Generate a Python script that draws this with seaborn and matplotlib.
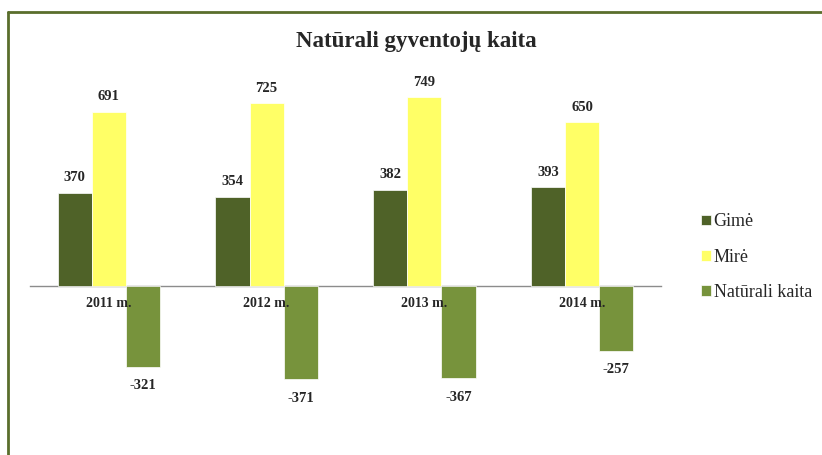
import pandas as pd
import matplotlib.pyplot as plt
import seaborn as sns
from matplotlib.lines import Line2D

years = ['2011 m.', '2012 m.', '2013 m.', '2014 m.']
gime = [370, 354, 382, 393]
mire = [691, 725, 749, 650]
naturali = [-321, -371, -367, -257]
series_names = ['Gimė', 'Mirė', 'Natūrali kaita']
colors = ['#4f6228', '#ffff66', '#77933c']

df = pd.DataFrame({
    'metai': years * 3,
    'reiksme': gime + mire + naturali,
    'serija': [s for s in series_names for _ in years],
})

sns.set_style('white')
plt.rcParams['font.family'] = ['Liberation Serif', 'DejaVu Serif']

fig = plt.figure(figsize=(8.22, 4.55), dpi=100)
ax = fig.add_axes([30 / 822, 43 / 455, 631 / 822, 353 / 455])

sns.barplot(data=df, x='metai', y='reiksme', hue='serija', palette=colors,
            width=0.65, saturation=1, ax=ax, legend=True,
            edgecolor='white', linewidth=0.5)

ax.set_ylim(-500, 900)
ax.set_xlim(-0.5, 3.5)
ax.set_xlabel('')
ax.set_ylabel('')
ax.set_yticks([])
for s in ['top', 'right', 'left']:
    ax.spines[s].set_visible(False)
ax.spines['bottom'].set_position(('data', 0))
ax.spines['bottom'].set_color('#8c8c8c')
ax.spines['bottom'].set_linewidth(1)
ax.spines['bottom'].set_zorder(0)

ax.set_xticks(range(len(years)))
ax.set_xticklabels(years, fontsize=10, fontweight='bold')
ax.tick_params(axis='x', which='major', length=0, pad=8)
ax.set_xticks([-0.5, 0.5, 1.5, 2.5, 3.5], minor=True)
ax.tick_params(axis='x', which='minor', length=4, color='#8c8c8c', direction='out')
ax.xaxis.set_zorder(5)

for i, cont in enumerate(ax.containers):
    pad = 9 if i == 2 else 6
    ax.bar_label(cont, padding=pad, fontsize=10.5, fontweight='bold')

fig.text(416 / 822, 1 - 41 / 455, 'Natūrali gyventojų kaita', ha='center', va='center',
         fontsize=16.5, fontweight='bold')

handles, labels = ax.get_legend_handles_labels()
ax.legend_.remove()
fig.legend(handles, labels, loc='center left', bbox_to_anchor=(701 / 822, 1 - 257 / 455),
           frameon=False, fontsize=13, handlelength=0.55, handleheight=0.55,
           handletextpad=0.15, labelspacing=1.0, borderpad=0, borderaxespad=0)

# olive border, cut off at right and bottom like the reference
fig.add_artist(Line2D([8 / 822, 8 / 822], [0, 1 - 12 / 455], transform=fig.transFigure,
                      color='#5a6e2c', linewidth=2))
fig.add_artist(Line2D([8 / 822, 1], [1 - 12 / 455, 1 - 12 / 455], transform=fig.transFigure,
                      color='#5a6e2c', linewidth=2))

fig.savefig('out.png', dpi=100)
